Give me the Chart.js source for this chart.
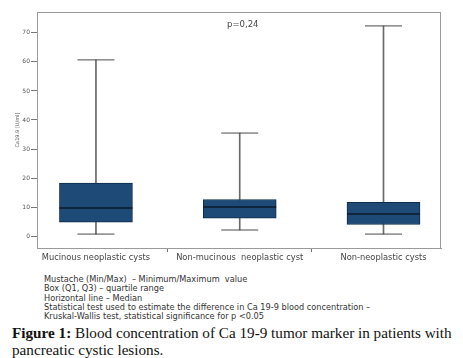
<!DOCTYPE html>
<html>
<head>
<meta charset="utf-8">
<script src="https://cdn.jsdelivr.net/npm/chart.js@4"></script>
<style>
  body { margin: 0; background: #fff; width: 463px; height: 358px; position: relative; overflow: hidden; }
  #wrap { position: absolute; left: 0; top: 0; width: 463px; height: 266px; }
  #pval { position: absolute; left: 227px; top: 19px; font: 8.5px "DejaVu Sans", sans-serif; color: #444; }
  #notes { position: absolute; left: 44px; top: 275px; font: 8.2px/9.3px "DejaVu Sans", sans-serif; color: #333; white-space: nowrap; }
  #caption { position: absolute; left: 12px; top: 325px; font: 15.2px/16.5px "Liberation Serif", serif; color: #111; width: 451px; }
  #caption b { font-weight: bold; }
</style>
</head>
<body>
<div id="wrap"><canvas id="boxChart" width="463" height="266"></canvas></div>
<div id="pval">p=0,24</div>
<div id="notes">
  Mustache (Min/Max) &nbsp;– Minimum/Maximum &nbsp;value<br>
  Box (Q1, Q3) – quartile range<br>
  Horizontal line – Median<br>
  Statistical test used to estimate the difference in Ca 19-9 blood concentration –<br>
  Kruskal-Wallis test, statistical significance for p &lt;0.05
</div>
<div id="caption"><b>Figure 1:</b> Blood concentration of Ca 19-9 tumor marker in patients with pancreatic cystic lesions.</div>
<script>
const categories = ['Mucinous neoplastic cysts', 'Non-mucinous  neoplastic cyst', 'Non-neoplastic cysts'];
const mins    = [0.7, 2.1, 0.7];
const q1s     = [4.8, 6.2, 4.0];
const medians = [9.7, 10.0, 7.6];
const q3s     = [18.3, 12.6, 11.6];
const maxs    = [60.7, 35.5, 72.4];
const yTicks  = [0, 10, 20, 30, 40, 50, 60, 70];

document.addEventListener("DOMContentLoaded", function() {
    // gray frame round the plot area
    const framePlugin = {
        id: 'frame',
        afterDraw(chart) {
            const a = chart.chartArea;
            const ctx = chart.ctx;
            ctx.save();
            ctx.strokeStyle = '#9a9a9a';
            ctx.lineWidth = 1;
            ctx.strokeRect(Math.round(a.left) + 0.5, Math.round(a.top) + 0.5,
                           Math.round(a.right - a.left) - 1, Math.round(a.bottom - a.top));
            ctx.restore();
        }
    };

    const ctx = document.getElementById('boxChart').getContext('2d');
    new Chart(ctx, {
        type: 'bar',
        data: {
            datasets: [{
                label: 'whisker',
                data: categories.map((c, i) => ({ x: i, y: [mins[i], maxs[i]] })),
                backgroundColor: '#6a6a6a',
                barThickness: 1,
                grouped: false,
                order: 3
            }, {
                label: 'box',
                data: categories.map((c, i) => ({ x: i, y: [q1s[i], q3s[i]] })),
                backgroundColor: '#1d4a76',
                borderColor: '#0e2b48',
                borderWidth: 1,
                borderSkipped: false,
                barThickness: 73,
                grouped: false,
                order: 2
            }, {
                type: 'scatter',
                label: 'caps',
                data: categories.map((c, i) => ({ x: i, y: mins[i] }))
                    .concat(categories.map((c, i) => ({ x: i, y: maxs[i] }))),
                pointStyle: 'line',
                pointRadius: 18.5,
                borderColor: '#4a4a4a',
                borderWidth: 1,
                order: 1
            }, {
                type: 'scatter',
                label: 'median',
                data: categories.map((c, i) => ({ x: i, y: medians[i] })),
                pointStyle: 'line',
                pointRadius: 36.5,
                borderColor: '#0a1a2b',
                borderWidth: 1.5,
                order: 0
            }]
        },
        options: {
            responsive: false,
            animation: false,
            events: [],
            layout: { autoPadding: false, padding: { top: 12, right: 22, left: 0, bottom: 0 } },
            plugins: {
                legend: { display: false },
                tooltip: { enabled: false }
            },
            scales: {
                x: {
                    type: 'linear',
                    offset: false,
                    min: -0.41,
                    max: 2.4,
                    afterBuildTicks: scale => { scale.ticks = categories.map((c, i) => ({ value: i })); },
                    afterFit: scale => { scale.height = 18; },
                    ticks: {
                        callback: v => categories[v],
                        font: { family: 'DejaVu Sans', size: 8.3 },
                        color: '#444',
                        padding: 1,
                        maxRotation: 0,
                        autoSkip: false
                    },
                    grid: { drawOnChartArea: false, tickLength: 4, color: '#777' },
                    border: { color: '#9a9a9a' }
                },
                y: {
                    min: -4.1,
                    max: 77.2,
                    afterBuildTicks: scale => { scale.ticks = yTicks.map(v => ({ value: v })); },
                    afterFit: scale => { scale.width = 37; },
                    ticks: {
                        font: { family: 'DejaVu Sans', size: 6 },
                        color: '#555',
                        padding: 1
                    },
                    grid: { drawOnChartArea: false, tickLength: 6, color: '#777' },
                    border: { color: '#9a9a9a' },
                    title: {
                        display: true,
                        text: 'Ca19.9 [U/ml]',
                        font: { family: 'DejaVu Sans', size: 5 },
                        color: '#555',
                        padding: { top: 15, bottom: 0 }
                    }
                }
            }
        },
        plugins: [framePlugin]
    });
});
</script>
</body>
</html>
